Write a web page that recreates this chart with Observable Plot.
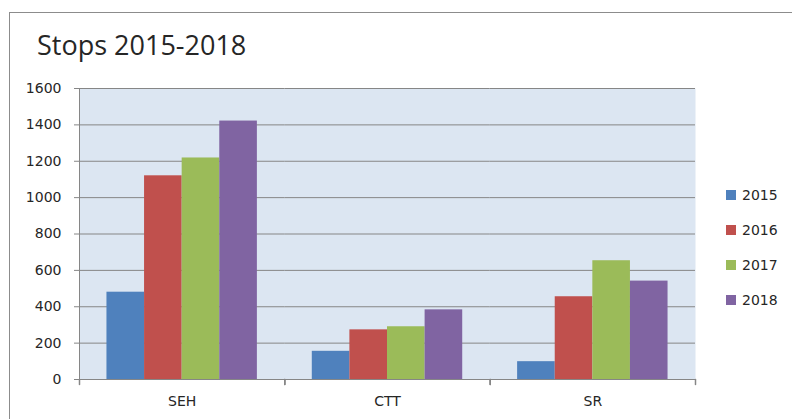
<!DOCTYPE html>
<html>
<head>
<meta charset="utf-8">
<script src="https://cdn.jsdelivr.net/npm/d3@7"></script>
<script src="https://cdn.jsdelivr.net/npm/@observablehq/plot@0.6"></script>
<style>
  html, body { margin: 0; padding: 0; background: #fff; }
  #wrap { position: relative; width: 792px; height: 419px; overflow: hidden; background: #fff; }
  #border { position: absolute; left: 9px; top: 12px; width: 800px; height: 420px;
            border-left: 1px solid #8c8c8c; border-top: 1px solid #8c8c8c; box-sizing: border-box; }
  #chart { position: absolute; left: 0; top: 0; }
  #title { position: absolute; left: 37px; top: 31px; font-family: "Open Sans", sans-serif;
           font-size: 27px; line-height: 27px; color: #262626; white-space: nowrap; }
  #legend { position: absolute; left: 726px; top: 177px; font-family: "DejaVu Sans", sans-serif;
            font-size: 14px; color: #262626; }
  .item { height: 35px; display: flex; align-items: center; }
  .sw { width: 10px; height: 10px; margin-right: 6px; }
</style>
</head>
<body>
<div id="wrap">
  <div id="border"></div>
  <div id="chart"></div>
  <div id="title">Stops 2015-2018</div>
  <div id="legend"></div>
</div>
<script>
const categories = ["SEH", "CTT", "SR"];
const years = ["2015", "2016", "2017", "2018"];
const v2015 = [480, 155, 98];
const v2016 = [1120, 273, 455];
const v2017 = [1218, 290, 653];
const v2018 = [1421, 383, 541];
const yTicks = [0, 200, 400, 600, 800, 1000, 1200, 1400, 1600];
const colors = ["#4f81bd", "#c0504d", "#9bbb59", "#8064a2"];

const series = [v2015, v2016, v2017, v2018];
const data = categories.flatMap((c, i) =>
  years.map((yr, j) => ({category: c, year: yr, value: series[j][i]}))
);

const tickShape = {
  draw(context, l) { context.moveTo(0, 0); context.lineTo(0, -l); }
};

const axisColor = "#868686";

const chart = Plot.plot({
  width: 792,
  height: 419,
  marginLeft: 79,
  marginRight: 97,
  marginTop: 88,
  marginBottom: 40,
  style: {fontFamily: "DejaVu Sans, sans-serif", fontSize: "14px", color: "#262626", background: "transparent"},
  fx: {domain: categories, padding: 0, round: false, label: null},
  x: {domain: years, paddingInner: 0, paddingOuter: 0.73, round: false, axis: null},
  y: {domain: [0, 1600], axis: null, label: null},
  color: {domain: years, range: colors},
  marks: [
    Plot.frame({fill: "#dce6f2", facet: "super"}),
    Plot.gridY(yTicks, {stroke: axisColor, strokeOpacity: 1}),
    Plot.barY(data, {fx: "category", x: "year", y: "value", fill: "year"}),
    Plot.ruleY([0], {stroke: axisColor}),
    Plot.frame({anchor: "left", facet: "super", stroke: axisColor}),
    Plot.axisY(yTicks, {tickSize: 5, tickPadding: 13, stroke: axisColor, fill: "#262626", tickFormat: d => String(d)}),
    Plot.axisFx({anchor: "bottom", tickSize: 0, tickPadding: 17, label: null, fill: "#262626"}),
    Plot.vector([0], {frameAnchor: "bottom-left", length: 5, rotate: 180, anchor: "start", stroke: axisColor, shape: tickShape}),
    Plot.vector([0], {frameAnchor: "bottom-right", length: 5, rotate: 180, anchor: "start", stroke: axisColor, shape: tickShape})
  ]
});
document.getElementById("chart").appendChild(chart);

const legend = d3.select("#legend");
years.forEach((yr, i) => {
  const item = legend.append("div").attr("class", "item");
  item.append("div").attr("class", "sw").style("background", colors[i]);
  item.append("span").text(yr);
});
</script>
</body>
</html>
